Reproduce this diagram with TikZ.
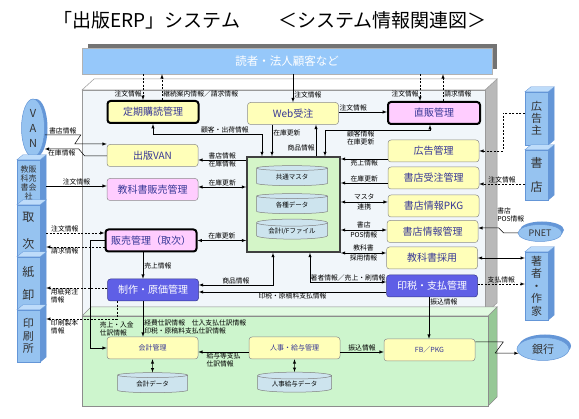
\documentclass[tikz,border=0pt]{standalone}
\usepackage{fontspec}
\setmainfont{Noto Sans CJK JP}
\usetikzlibrary{arrows,shapes.geometric,shadows}
\definecolor{boxtxt}{RGB}{55,55,150}
\definecolor{yfill}{RGB}{255,255,185}
\definecolor{pfill}{RGB}{255,205,255}
\definecolor{bfill}{RGB}{95,95,230}
\definecolor{extfill}{RGB}{150,195,240}
\definecolor{extside}{RGB}{100,150,215}
\definecolor{exttop}{RGB}{190,220,250}
\definecolor{panel}{RGB}{241,246,250}
\definecolor{panelside}{RGB}{185,185,185}
\definecolor{gpanel}{RGB}{205,245,205}
\definecolor{gtop}{RGB}{225,250,225}
\definecolor{gside}{RGB}{150,200,150}
\definecolor{dbfill}{RGB}{212,245,200}
\definecolor{cylfill}{RGB}{205,228,238}
\definecolor{barfill}{RGB}{150,200,250}
\tikzstyle{post}=[->]
\tikzstyle{both}=[<->]
\tikzstyle{dline}=[dash pattern=on 2pt off 1.5pt]
\tikzstyle{lbl}=[font=\fontsize{6.8}{8}\selectfont, inner sep=1pt]
\tikzstyle{lbl2}=[font=\fontsize{6.8}{9.5}\selectfont, inner sep=1pt, align=center]
\tikzstyle{proc}=[rectangle, rounded corners=3pt, draw=black!45, fill=yfill, text=boxtxt, minimum width=91pt, minimum height=22pt, inner sep=0pt, font=\fontsize{10}{12}\selectfont]
\tikzstyle{pproc}=[proc, fill=pfill]
\tikzstyle{bproc}=[proc, fill=bfill, draw=bfill!60!black, text=white]
\tikzstyle{heavy}=[line width=2pt, draw=black]
\tikzstyle{gproc}=[proc, font=\fontsize{7}{8}\selectfont]
\tikzstyle{cyl}=[cylinder, shape border rotate=90, aspect=0.15, draw=black!50, fill=cylfill, minimum width=71pt, minimum height=20pt, inner sep=0pt, font=\fontsize{6.5}{7}\selectfont]
\tikzstyle{ext}=[rectangle, fill=extfill, draw=extside, line width=0.3pt, inner sep=0pt, minimum width=23pt, align=center, text=black!80]
\tikzstyle{disk}=[ellipse, fill=extfill, draw=extside, inner sep=0pt, align=center, text=black!80]
\tikzstyle{bar}=[rectangle, fill=barfill, draw=black!30, minimum width=410pt, minimum height=26pt, text=white, font=\fontsize{11.5}{13}\selectfont]
% side and top faces of a box
\newcommand{\extface}[1]{%
  \filldraw[fill=extside, draw=extside, line width=0.3pt] (#1.north east) -- ++(6pt,5pt) -- ([shift={(6pt,5pt)}]#1.south east) -- (#1.south east) -- cycle;
  \filldraw[fill=exttop, draw=extside, line width=0.3pt] (#1.north west) -- ++(6pt,5pt) -- ([shift={(6pt,5pt)}]#1.north east) -- (#1.north east) -- cycle;
  \coordinate (#1-r) at ([xshift=6pt]#1.east);}
\begin{document}
\begin{tikzpicture}[x=1pt,y=-1pt,line width=0.5pt,>=latex]
\useasboundingbox (0,0) rectangle (579,419);
\fill[white] (0,0) rectangle (579,419);

\node (title) at (270,20) {\fontsize{19}{21}\selectfont 「出版ERP」システム　　＜システム情報関連図＞};

% panels
\filldraw[fill=panelside, draw=black!40] (485,90) -- (497,79) -- (497,303) -- (485,314) -- cycle;
\filldraw[fill=panel, draw=black!40] (82,90) rectangle (485,314);
\filldraw[fill=white, draw=black!40] (82,90) -- (94,79) -- (497,79) -- (485,90) -- cycle;
\filldraw[fill=gside, draw=black!45] (488,316) -- (497,307) -- (497,397) -- (488,406) -- cycle;
\filldraw[fill=gpanel, draw=black!45] (82,316) rectangle (488,406);
\filldraw[fill=gtop, draw=black!45] (82,316) -- (91,307) -- (497,307) -- (488,316) -- cycle;

\fill[black!55] (88,44) rectangle (497,69);
\node[bar] (reader) at (287,61) {読者・法人顧客など};

% left column
\node[proc,heavy] (teiki) at (153,112) {定期購読管理};
\node[proc] (vanbox) at (152.5,155.5) {出版VAN};
\node[pproc] (kyokasho) at (152.5,189.5) {教科書販売管理};
\node[pproc,heavy] (hanbai) at (151,240.5) {販売管理（取次）};
\node[bproc] (seisaku) at (153,290) {制作・原価管理};

% middle
\node[proc] (web) at (293,113.5) {Web受注};
\node[draw=black!75, line width=1.6pt, fill=dbfill, minimum width=93pt, minimum height=95pt] (db) at (293.5,204.5) {};
\node[cyl] (common) at (292,177) {共通マスタ};
\node[cyl] (various) at (292,205) {各種データ};
\node[cyl] (iffile) at (292,231) {会計I/Fファイル};

% right column
\node[pproc,heavy,minimum width=92pt] (chokuhan) at (434,113) {直販管理};
\node[proc] (koukoku) at (433.5,151) {広告管理};
\node[proc] (juchu) at (433.5,178) {書店受注管理};
\node[proc] (pkg) at (433.5,206) {書店情報PKG};
\node[proc] (joho) at (432.5,231.5) {書店情報管理};
\node[proc] (saiyo) at (432,258) {教科書採用};
\node[bproc] (inzei) at (432,286) {印税・支払管理};

% accounting
\node[gproc] (kaikei) at (152.5,348) {会計管理};
\node[cyl,minimum width=70pt] (kdata) at (152.5,384) {会計データ};
\node[gproc] (jinji) at (294.5,348) {人事・給与管理};
\node[cyl,minimum width=74pt] (jdata) at (294.5,384) {人事給与データ};
\node[gproc] (fb) at (429.5,350) {FB／PKG};

% outside parties
\node[disk, minimum width=23pt, minimum height=58pt, copy shadow={shadow xshift=3pt, shadow yshift=0pt, fill=extside, draw=none}, font=\fontsize{11}{15}\selectfont] (van) at (33,128) {V\\A\\N};
\node[ext, minimum height=45pt, font=\fontsize{8}{9}\selectfont] (kyohan) at (28.5,182.5) {教販\\科売\\書会\\社};
\extface{kyohan}
\node[ext, minimum height=52pt, font=\fontsize{12}{27}\selectfont] (toritsugi) at (28.5,231) {取\\次};
\extface{toritsugi}
\node[ext, minimum height=53pt, font=\fontsize{12}{23}\selectfont] (kami) at (28.5,283.5) {紙\\卸};
\extface{kami}
\node[ext, minimum height=52pt, font=\fontsize{11}{12.5}\selectfont] (insatsu) at (28.5,336) {印\\刷\\所};
\extface{insatsu}
\node[ext, minimum height=53pt, font=\fontsize{11}{12}\selectfont] (adv) at (536.5,118.5) {広\\告\\主};
\extface{adv}
\node[ext, minimum height=50pt, font=\fontsize{12}{24}\selectfont] (shoten) at (536.5,175) {書\\店};
\extface{shoten}
\node[ext, minimum height=68pt, font=\fontsize{11}{12.5}\selectfont] (author) at (536.5,286) {著\\者\\・\\作\\家};
\extface{author}
\node[disk, minimum width=44pt, minimum height=17pt, copy shadow={shadow xshift=2pt, shadow yshift=3pt, fill=extside, draw=none}, font=\fontsize{9}{10}\selectfont] (pnet) at (540,233) {PNET};
\node[disk, minimum width=52pt, minimum height=23pt, copy shadow={shadow xshift=2pt, shadow yshift=3pt, fill=extside, draw=none}, font=\fontsize{11}{12}\selectfont] (bank) at (543,349) {銀行};

% readers
\draw[dline,post] ([xshift=-10pt]teiki.north |- reader.south) -- node[lbl,left,pos=0.75]{注文情報} ([xshift=-10pt]teiki.north);
\draw[dline,post] ([xshift=9pt]teiki.north) -- node[lbl,right,pos=0.25]{継続案内情報／請求情報} ([xshift=9pt]teiki.north |- reader.south);
\draw[post] (web.north |- reader.south) -- node[lbl,right,pos=0.75]{注文情報} (web.north);
\draw[dline,post] ([xshift=-14pt]chokuhan.north |- reader.south) -- node[lbl,left,pos=0.75]{注文情報} ([xshift=-14pt]chokuhan.north);
\draw[dline,post] ([xshift=9pt]chokuhan.north) -- node[lbl,right,pos=0.25]{請求情報} ([xshift=9pt]chokuhan.north |- reader.south);
\draw[post] ([yshift=1.5pt]web.east) -- node[lbl,above,pos=0.3]{注文情報} ([yshift=1.5pt]web.east -| chokuhan.west);

% to and from the database
\draw[both] (teiki.south) -- ++(0,10) -| node[lbl,above,pos=0.33]{顧客・出荷情報} ([xshift=-31.5pt]db.north);
\draw[post] ([xshift=-21pt]web.south) -- node[lbl,right,pos=0.27]{在庫更新} ([xshift=-21pt]web.south |- db.north);
\draw[post] ([xshift=23pt]web.south |- db.north) -- node[lbl,left,pos=0.27]{商品情報} ([xshift=23pt]web.south);
\draw[both] ([xshift=-4pt]chokuhan.south) -- ++(0,5) -| node[lbl,below,align=center,pos=0.33]{顧客情報\\在庫更新} ([xshift=31.5pt]db.north);
\draw[post] ([yshift=-4.5pt]vanbox.east -| db.west) -- node[lbl,above]{書店情報} node[lbl,below]{在庫情報} ([yshift=-4.5pt]vanbox.east);
\draw[both] ([yshift=2.5pt]kyokasho.east) -- node[lbl,above]{在庫更新} ([yshift=2.5pt]kyokasho.east -| db.west);
\draw[both] (hanbai.east) -- node[lbl,above]{在庫更新} (hanbai.east -| db.west);
\draw[post] ([xshift=-8pt]hanbai.south) -- node[lbl,right]{売上情報} ([xshift=-8pt]hanbai.south |- seisaku.north);
\draw[both] ([xshift=-20.5pt]db.south) |- node[lbl,above,pos=0.75]{商品情報} ([yshift=5pt]seisaku.east);
\draw[post] ([yshift=-2pt]seisaku.east -| inzei.west) -- node[lbl,below]{印税・原稿料支払情報} ([yshift=-2pt]seisaku.east);
\draw[both] ([xshift=16.5pt]db.south) |- node[lbl,above,pos=0.75]{著者情報／売上・刷情報} ([yshift=4pt]inzei.west);
\draw[post] ([yshift=-8pt]koukoku.west) -- node[lbl,below]{売上情報} ([yshift=-8pt]koukoku.west -| db.east);
\draw[post] ([yshift=-5pt]juchu.west) -- node[lbl,above]{在庫更新} ([yshift=-5pt]juchu.west -| db.east);
\draw[both] ([yshift=4pt]pkg.west) -- node[lbl2]{マスタ\\連携} ([yshift=4pt]pkg.west -| db.east);
\draw[both] ([yshift=1.5pt]joho.west) -- node[lbl2]{書店\\POS情報} ([yshift=1.5pt]joho.west -| db.east);
\draw[both] ([yshift=5pt]saiyo.west) -- node[lbl2]{教科書\\採用情報} ([yshift=5pt]saiyo.west -| db.east);

% left side partners
\draw[post] ([yshift=-7pt]van.east) -- node[lbl,above]{書店情報} ++(36,0) -- ++(-6,9) -- ([yshift=11.5pt]vanbox.west);
\draw[post] ([yshift=-0.5pt]vanbox.west) -- ++(-22,0) -- ++(-6,-7) -- node[lbl,below]{在庫情報} ([yshift=-21pt]van.east);
\draw[post] ([yshift=3.5pt]kyokasho.west -| kyohan-r) -- node[lbl,above]{注文情報} ([yshift=3.5pt]kyokasho.west);
\draw[dline,post] ([yshift=7.5pt]hanbai.west -| toritsugi-r) -- node[lbl,above,pos=0.32]{注文情報} ([yshift=7.5pt]hanbai.west);
\draw[dline,post] ([yshift=-6.5pt]hanbai.west) -- node[lbl,below,pos=0.68]{請求情報} ([yshift=-6.5pt]hanbai.west -| toritsugi-r);
\draw[dline,post] ([yshift=2pt]seisaku.west) -- node[lbl,below,align=left,pos=0.7]{用紙発注\\情報} ([yshift=2pt]seisaku.west -| kami-r);
\draw[dline,post] ([xshift=-36pt]seisaku.south) |- node[lbl,below,align=left,pos=0.87]{印刷製本\\情報} ([yshift=17pt]insatsu-r);

% right side partners
\draw[dline,post] ([yshift=5pt]adv.west) -- ++(-22,0) |- (koukoku.east);
\draw[dline,post] ([yshift=-6pt]juchu.east -| shoten.west) -- node[lbl,above]{注文情報} ([yshift=-6pt]juchu.east);
\draw[post] (pnet.west) -- node[lbl,above=10pt,align=left]{書店\\POS情報} ++(-14,0) -- ++(-5,-5) -- ([yshift=3.5pt]joho.east);
\draw[both] (saiyo.east) -- (saiyo.east -| author.west);
\draw[dline,post] ([yshift=2pt]inzei.east) -- node[lbl,above]{支払情報} ([yshift=2pt]inzei.east -| author.west);
\draw[post] ([xshift=-3pt]inzei.south) -- node[lbl,right,pos=0.12]{振込情報} ([xshift=-3pt]inzei.south |- fb.north);

% accounting flows
\draw[post] (hanbai.west) -- ++(-14,0) |- node[lbl,right,align=left,pos=0.41,xshift=8pt]{売上・入金\\仕訳情報} (kaikei.west);
\draw[post] ([xshift=-10pt]seisaku.south) -- node[lbl,right,align=left,pos=0.72]{経費仕訳情報　仕入支払仕訳情報\\印税・原稿料支払仕訳情報} ([xshift=-10pt]seisaku.south |- kaikei.north);
\draw[post] ([yshift=-4pt]jinji.west) -- node[lbl,below,align=left]{給与等支払\\仕訳情報} ([yshift=-4pt]jinji.west -| kaikei.east);
\draw[post] ([yshift=-4pt]jinji.east) -- node[lbl,above]{振込情報} ([yshift=-4pt]jinji.east -| fb.west);
\draw[both] (kaikei.south) -- (kdata.north);
\draw[both] (jinji.south) -- (jdata.north);
\draw[post] ([yshift=8pt]fb.east) -- ++(28,0) -- ++(-8,11) -- (bank.190);
\end{tikzpicture}
\end{document}
